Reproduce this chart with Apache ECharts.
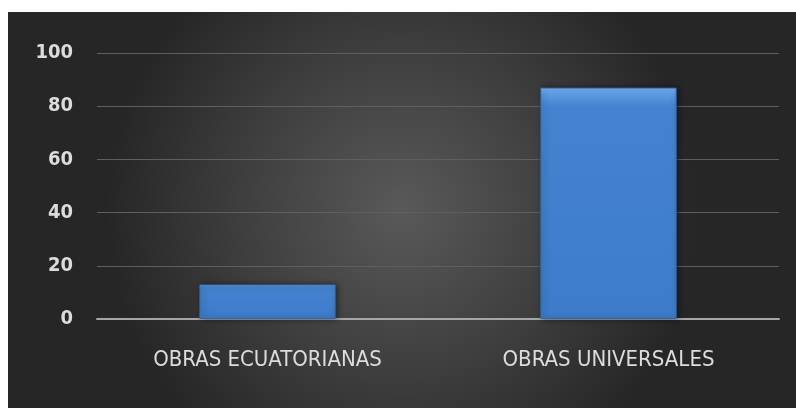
<!DOCTYPE html>
<html>
<head>
<meta charset="utf-8">
<script src="https://cdn.jsdelivr.net/npm/echarts@6/dist/echarts.min.js"></script>
<style>
  html, body { margin: 0; padding: 0; background: #ffffff; }
  #chart { width: 796px; height: 408px; }
</style>
</head>
<body>
<div id="chart"></div>
<script>
// Works by origin
const categories = ['OBRAS ECUATORIANAS', 'OBRAS UNIVERSALES'];
const values = [13, 87];
const yTicks = { min: 0, max: 100, interval: 20 };

const FONT = '"DejaVu Sans Condensed", "Open Sans", sans-serif';

const chart = echarts.init(document.getElementById('chart'), null, { renderer: 'canvas' });

const option = {
  animation: false,
  backgroundColor: '#ffffff',
  graphic: [{
    type: 'rect',
    z: -10,
    shape: { x: 8, y: 12, width: 788, height: 396 },
    style: {
      fill: {
        type: 'radial', x: 0.5, y: 0.5, r: 0.75,
        colorStops: [
          { offset: 0, color: '#595959' },
          { offset: 0.55, color: '#3e3e3e' },
          { offset: 1, color: '#262626' }
        ]
      }
    },
    silent: true
  }],
  grid: { left: 97, right: 17, top: 53, bottom: 89, containLabel: false },
  xAxis: {
    type: 'category',
    data: categories,
    axisLine: { show: true, lineStyle: { color: '#a6a6a6', width: 2 } },
    axisTick: { show: false },
    axisLabel: {
      color: '#dcdcdc',
      fontFamily: FONT,
      fontSize: 22,
      margin: 30
    }
  },
  yAxis: {
    type: 'value',
    min: yTicks.min,
    max: yTicks.max,
    interval: yTicks.interval,
    axisLine: { show: false },
    axisTick: { show: false },
    splitLine: { lineStyle: { color: '#5f5f5f', width: 1 } },
    axisLabel: {
      color: '#dcdcdc',
      fontFamily: FONT,
      fontWeight: 'bold',
      fontSize: 20,
      margin: 24
    }
  },
  series: [{
    type: 'bar',
    data: values,
    barWidth: '40%',
    itemStyle: {
      color: {
        type: 'linear', x: 0, y: 0, x2: 0, y2: 1,
        colorStops: [
          { offset: 0, color: '#7ab4f0' },
          { offset: 0.03, color: '#5d9ae0' },
          { offset: 0.08, color: '#4583d0' },
          { offset: 1, color: '#3c7cca' }
        ]
      },
      borderColor: '#2f64a8',
      borderWidth: 1,
      shadowColor: 'rgba(0,0,0,0.45)',
      shadowBlur: 6,
      shadowOffsetX: 2,
      shadowOffsetY: 0
    }
  }]
};

chart.setOption(option);
</script>
</body>
</html>
